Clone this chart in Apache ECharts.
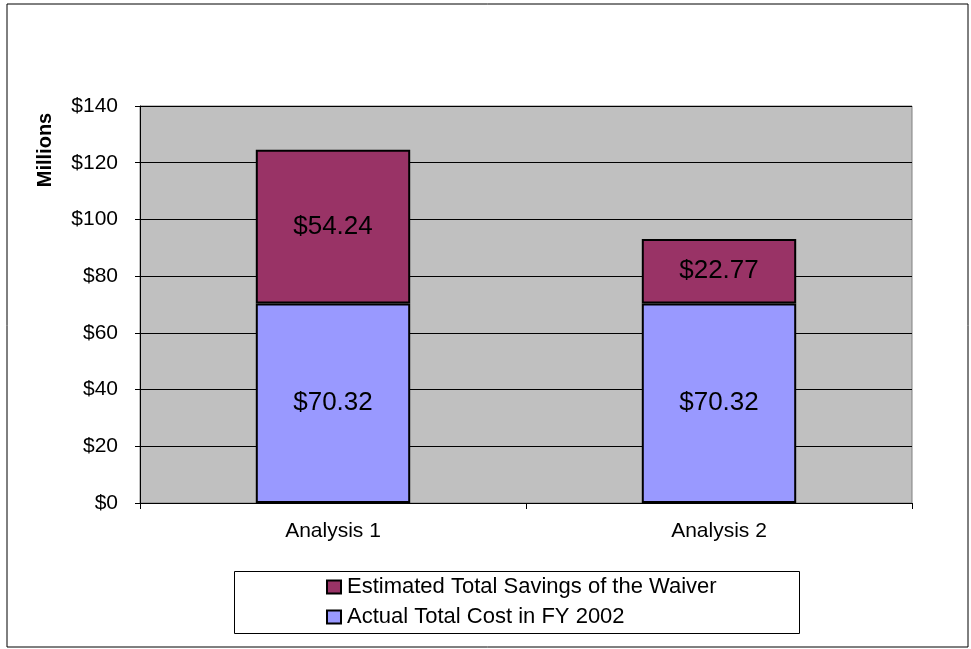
<!DOCTYPE html>
<html>
<head>
<meta charset="utf-8">
<script src="https://cdn.jsdelivr.net/npm/echarts@6/dist/echarts.min.js"></script>
<style>
    html, body { margin: 0; padding: 0; background: #fff; }
    #chart { width: 971px; height: 649px; }
</style>
</head>
<body>
<div id="chart"></div>
<script>
// values in millions of dollars
const categories = ["Analysis 1", "Analysis 2"];
const actualCost = [70.32, 70.32];
const estimatedSavings = [54.24, 22.77];
const seriesNames = ["Estimated Total Savings of the Waiver", "Actual Total Cost in FY 2002"];

const font = "Liberation Sans, Arial, sans-serif";

function money(p) {
    return "$" + p.value.toFixed(2);
}

let chart = echarts.init(document.getElementById("chart"));

let options = {
    animation: false,
    textStyle: { fontFamily: font },
    graphic: [
        {
            type: "rect",
            shape: { x: 7, y: 4, width: 961, height: 643 },
            style: { fill: "none", stroke: "#000", lineWidth: 1 },
            silent: true
        },
        {
            type: "rect",
            shape: { x: 234.5, y: 571.5, width: 565, height: 62 },
            style: { fill: "#fff", stroke: "#000", lineWidth: 1 },
            silent: true,
            z: -1
        },
        {
            type: "text",
            x: 45,
            y: 150,
            rotation: Math.PI / 2,
            style: {
                text: "Millions",
                fontFamily: font,
                fontSize: 20,
                fontWeight: "bold",
                fill: "#000",
                align: "center",
                verticalAlign: "middle"
            }
        }
    ],
    legend: {
        orient: "vertical",
        left: 326,
        top: 576,
        padding: 0,
        itemGap: 8,
        itemWidth: 14,
        itemHeight: 13,
        icon: "rect",
        data: seriesNames,
        textStyle: { fontFamily: font, fontSize: 22, color: "#000", padding: [0, 0, 0, 1] },
        itemStyle: { borderColor: "#000", borderWidth: 2 }
    },
    grid: {
        show: true,
        left: 140,
        right: 59,
        top: 106,
        bottom: 146,
        backgroundColor: "#c0c0c0",
        borderColor: "#808080",
        borderWidth: 1
    },
    xAxis: {
        type: "category",
        data: categories,
        axisLine: { lineStyle: { color: "#000", width: 1 } },
        axisTick: { show: true, length: 6, lineStyle: { color: "#000" } },
        axisLabel: { fontFamily: font, fontSize: 21, color: "#000", margin: 18 }
    },
    yAxis: {
        type: "value",
        min: 0,
        max: 140,
        interval: 20,
        axisLine: { show: true, lineStyle: { color: "#000", width: 1 } },
        axisTick: { show: true, length: 5, lineStyle: { color: "#000" } },
        axisLabel: {
            fontFamily: font,
            fontSize: 21,
            color: "#000",
            margin: 22,
            formatter: v => "$" + v
        },
        splitLine: { show: true, lineStyle: { color: "#000", width: 1 } }
    },
    series: [
        {
            name: seriesNames[1],
            type: "bar",
            stack: "total",
            data: actualCost,
            barWidth: "40%",
            itemStyle: { color: "#9999ff", borderColor: "#000", borderWidth: 2 },
            label: { show: true, position: "inside", formatter: money, fontFamily: font, fontSize: 26, color: "#000" }
        },
        {
            name: seriesNames[0],
            type: "bar",
            stack: "total",
            data: estimatedSavings,
            barWidth: "40%",
            itemStyle: { color: "#993366", borderColor: "#000", borderWidth: 2 },
            label: { show: true, position: "inside", formatter: money, fontFamily: font, fontSize: 26, color: "#000" }
        }
    ]
};
chart.setOption(options);
</script>
</body>
</html>
